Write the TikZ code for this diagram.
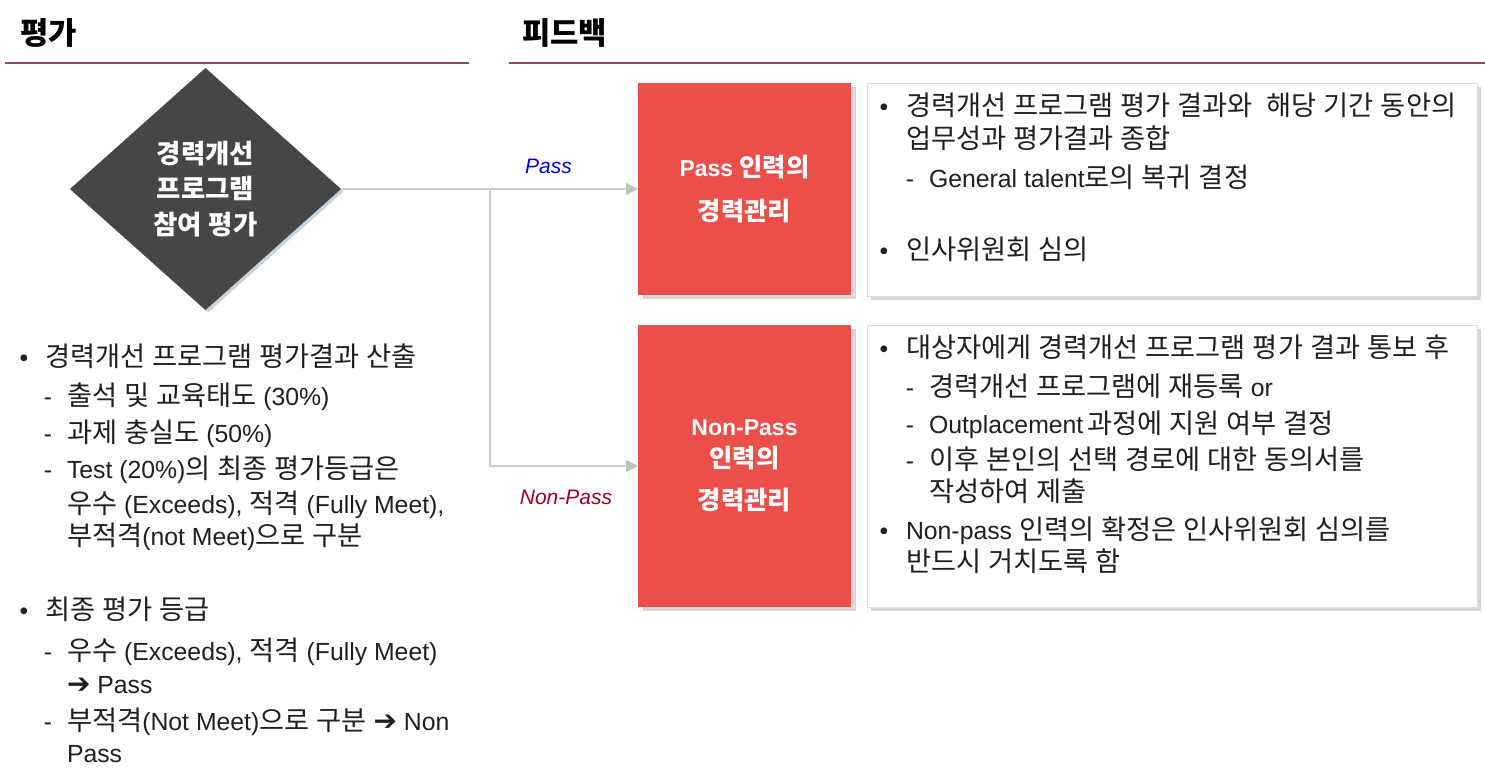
\documentclass[tikz,border=0pt]{standalone}
\usepackage{fontspec}
\setmainfont{Liberation Sans}
\newfontfamily\krfont{Noto Sans CJK KR}[Scale=1.1]
\newfontfamily\latfont{Liberation Sans}
\newfontfamily\symfont{DejaVu Sans}
\usetikzlibrary{shapes.geometric,arrows.meta}
% automatic font switching for Hangul syllables
\ifdefined\newXeTeXintercharclass
  \newXeTeXintercharclass\krclass
\else
  \chardef\krclass=10
\fi
\makeatletter
\count@="AC00
\loop
  \XeTeXcharclass\count@=\krclass
  \ifnum\count@<"D7A3 \advance\count@ by 1
\repeat
\makeatother
\XeTeXinterchartokenstate=1
\XeTeXinterchartoks 0 \krclass = {\krfont}
\XeTeXinterchartoks 4095 \krclass = {\krfont}
\XeTeXinterchartoks \krclass 0 = {\latfont}
\XeTeXinterchartoks \krclass 4095 = {\latfont}
\newcommand\myarr{{\symfont\bfseries\fontsize{28}{28}\selectfont ➔}}
\definecolor{txt}{HTML}{231F20}
\definecolor{rule}{HTML}{8C4A5C}
\definecolor{dia}{HTML}{464646}
\definecolor{diash}{HTML}{C5D4DE}
\definecolor{redbox}{HTML}{EC4E4A}
\definecolor{shad}{HTML}{D6D6D6}
\definecolor{wborder}{HTML}{DDDDDD}
\definecolor{conn}{HTML}{CDCDCD}
\definecolor{tip}{HTML}{C0C0C0}
\definecolor{passblue}{HTML}{0000F0}
\definecolor{npred}{HTML}{A50021}
\tikzset{
  every node/.style={inner sep=0pt, outer sep=0pt},
  body/.style={anchor=base west, text=txt, font=\fontsize{24.8}{30}\selectfont},
  bul/.style={anchor=base, text=txt, font=\fontsize{24.8}{30}\selectfont},
  heading/.style={anchor=west, text=black, font=\bfseries\fontsize{28}{32}\selectfont},
  rulestyle/.style={draw=rule, line width=2pt},
  rbox/.style={rectangle, fill=redbox, minimum width=213pt, text=white, align=center,
    font=\bfseries\fontsize{23}{44}\selectfont},
  shadowbox/.style={rectangle, fill=shad, minimum width=213pt},
  wbox/.style={rectangle, fill=white, draw=wborder, line width=0.8pt, minimum width=610pt},
  wshadow/.style={rectangle, fill=shad, minimum width=610pt},
  connector/.style={draw=conn, line width=1.6pt},
  arrowed/.style={connector, -{Triangle[length=12pt,width=12pt,color=tip]}},
  branchlabel/.style={font=\itshape\fontsize{21}{25}\selectfont},
}
\begin{document}
\begin{tikzpicture}[x=1pt,y=-1pt]
\useasboundingbox[fill=white] (0,0) rectangle (1485,782);

% headings
\node[heading] (h1) at (20,33) {평가};
\node[heading] (h2) at (522,33) {피드백};
\coordinate (r1a) at (5,63);
\coordinate (r1b) at (469,63);
\coordinate (r2a) at (509,63);
\coordinate (r2b) at (1485,63);
\draw[rulestyle] (r1a) -- (r1b);
\draw[rulestyle] (r2a) -- (r2b);

% diamond
\node[diamond, fill=diash, minimum width=271pt, minimum height=242pt] (dsh) at (208,191.5) {};
\node[diamond, fill=dia, minimum width=271pt, minimum height=242pt, text=white, align=center,
  font=\bfseries\fontsize{24}{35.5}\selectfont] (dm) at (205.5,189) {경력개선\\프로그램\\참여 평가};

% red boxes with shadows
\node[shadowbox, minimum height=212pt] (rb1s) at (749.5,193) {};
\node[rbox, minimum height=212pt] (rb1) at (744.5,189) {Pass 인력의\\경력관리};
\node[shadowbox, minimum height=282pt] (rb2s) at (749.5,470) {};
\node[rbox, minimum height=282pt, font=\bfseries\fontsize{23}{32}\selectfont] (rb2) at (744.5,466) {Non-Pass\\인력의\\[10pt]경력관리};

% white boxes with shadows
\node[wshadow, minimum height=213pt] (wb1s) at (1176,193.5) {};
\node[wbox, minimum height=213pt] (wb1) at (1172,189.5) {};
\node[wshadow, minimum height=282pt] (wb2s) at (1176,470) {};
\node[wbox, minimum height=282pt] (wb2) at (1172,466) {};

% connectors
\coordinate (jn) at (490,189);
\draw[arrowed] (dm.east) -- (rb1.west);
\draw[arrowed] (jn) |- (rb2.west);
\node[branchlabel, text=passblue] (lpass) at (548.5,166) {Pass};
\node[branchlabel, text=npred] (lnp) at (566,497) {Non-Pass};

% left text
\node[bul] (lb1) at (24,366) {•};
\node[body] (l1) at (45,366) {경력개선 프로그램 평가결과 산출};
\node[bul] (ld2) at (48,405) {-};
\node[body] (l2) at (67,405) {출석 및 교육태도 (30\%)};
\node[bul] (ld3) at (48,442) {-};
\node[body] (l3) at (67,442) {과제 충실도 (50\%)};
\node[bul] (ld4) at (48,478) {-};
\node[body] (l4) at (67,478) {Test (20\%)의 최종 평가등급은};
\node[body] (l5) at (67,513) {우수 (Exceeds), 적격 (Fully Meet),};
\node[body] (l6) at (67,545) {부적격(not Meet)으로 구분};
\node[bul] (lb7) at (24,619) {•};
\node[body] (l7) at (45,619) {최종 평가 등급};
\node[bul] (ld8) at (48,660) {-};
\node[body] (l8) at (67,660) {우수 (Exceeds), 적격 (Fully Meet)};
\node[body] (l9) at (67,693) {\myarr\ Pass};
\node[bul] (ld10) at (48,730) {-};
\node[body] (l10) at (67,730) {부적격(Not Meet)으로 구분 \myarr\ Non};
\node[body] (l11) at (67,762) {Pass};

% right box 1 text
\node[bul] (rb1b) at (884,115) {•};
\node[body] (r1) at (906,115) {경력개선 프로그램 평가 결과와\ \ 해당 기간 동안의};
\node[body] (r2) at (906,148) {업무성과 평가결과 종합};
\node[bul] (rd3) at (910,187) {-};
\node[body] (r3) at (929,187) {General talent로의 복귀 결정};
\node[bul] (rb4) at (884,259) {•};
\node[body] (r4) at (906,259) {인사위원회 심의};

% right box 2 text
\node[bul] (sb1) at (884,357) {•};
\node[body] (s1) at (906,357) {대상자에게 경력개선 프로그램 평가 결과 통보 후};
\node[bul] (sd2) at (910,396) {-};
\node[body] (s2) at (929,396) {경력개선 프로그램에 재등록 or};
\node[bul] (sd3) at (910,433) {-};
\node[body] (s3) at (929,433) {Outplacement\,과정에 지원 여부 결정};
\node[bul] (sd4) at (910,469) {-};
\node[body] (s4) at (929,469) {이후 본인의 선택 경로에 대한 동의서를};
\node[body] (s5) at (929,501) {작성하여 제출};
\node[bul] (sb6) at (884,539) {•};
\node[body] (s6) at (906,539) {Non-pass 인력의 확정은 인사위원회 심의를};
\node[body] (s7) at (906,571) {반드시 거치도록 함};
\end{tikzpicture}
\end{document}
